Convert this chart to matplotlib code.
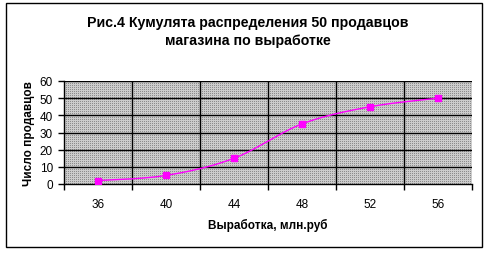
import matplotlib
matplotlib.use('Agg')
import matplotlib.pyplot as plt
import matplotlib.patches as mpatches
import numpy as np

plt.rcParams['font.family'] = ['Liberation Sans', 'DejaVu Sans']

# data
categories = ['36', '40', '44', '48', '52', '56']
cum_sellers = [2, 5, 15, 35, 45, 50]
y_ticks = [0, 10, 20, 30, 40, 50, 60]

title = 'Рис.4 Кумулята распределения 50 продавцов\nмагазина по выработке'
x_label = 'Выработка, млн.руб'
y_label = 'Число продавцов'


def smooth_curve(xs, ys, steps=30):
    # catmull-rom like excel "smoothed line"
    xs = np.asarray(xs, float)
    ys = np.asarray(ys, float)
    px = np.concatenate([[xs[0]], xs, [xs[-1]]])
    py = np.concatenate([[ys[0]], ys, [ys[-1]]])
    out_x, out_y = [], []
    t = np.linspace(0, 1, steps)
    for i in range(1, len(px) - 2):
        p0, p1, p2, p3 = [np.array([px[k], py[k]]) for k in (i - 1, i, i + 1, i + 2)]
        c1 = p1 + (p2 - p0) / 6.0
        c2 = p2 - (p3 - p1) / 6.0
        b = ((1 - t) ** 3)[:, None] * p1 + (3 * (1 - t) ** 2 * t)[:, None] * c1 \
            + (3 * (1 - t) * t ** 2)[:, None] * c2 + (t ** 3)[:, None] * p2
        out_x.extend(b[:, 0])
        out_y.extend(b[:, 1])
    return np.array(out_x), np.array(out_y)


fig = plt.figure(figsize=(4.9, 2.55), dpi=100)
fig.patch.set_facecolor('white')

# outer chart frame
fig.patches.append(mpatches.Rectangle((6 / 490, 1 - 248 / 255), 476 / 490, 244 / 255,
                                      transform=fig.transFigure, fill=False,
                                      edgecolor='black', linewidth=1.0))

ax = fig.add_axes([64 / 490, 1 - 185 / 255, 408 / 490, 103 / 255])

x = np.arange(len(categories))
n = len(categories)

# dotted gray pattern background like excel
h, w = 103, 408
pat = np.full((h, w, 3), 0.80)
pat[::2, ::2] = 0.55
ax.imshow(pat, extent=(-0.5, n - 0.5, 0, 60), aspect='auto',
          interpolation='nearest', zorder=0)

ax.set_xlim(-0.5, n - 0.5)
ax.set_ylim(0, 60)

# grid
for yv in y_ticks[1:]:
    ax.axhline(yv, color='black', linewidth=1.0, zorder=1)
for xv in np.arange(0.5, n - 0.5, 1):
    ax.axvline(xv, color='black', linewidth=1.0, zorder=1)

sx, sy = smooth_curve(x, cum_sellers)
ax.plot(sx, sy, color='#FF00FF', linewidth=1.0, zorder=3)
ax.plot(x, cum_sellers, linestyle='none', marker='s', markersize=4.5,
        color='#FF00FF', zorder=4)

ax.set_yticks(y_ticks)
ax.set_yticklabels([str(v) for v in y_ticks], fontsize=8.5)
ax.set_xticks(x)
ax.set_xticklabels(categories, fontsize=8.5)
ax.set_xticks(np.arange(-0.5, n, 1), minor=True)
ax.tick_params(axis='x', which='major', length=0, pad=10)
ax.tick_params(axis='x', which='minor', length=4, width=1, direction='out')
ax.tick_params(axis='y', length=4, width=1, direction='out', pad=4)

for s in ('top', 'right'):
    ax.spines[s].set_visible(False)
for s in ('left', 'bottom'):
    ax.spines[s].set_linewidth(1.0)

ax.set_xlabel(x_label, fontsize=8.5, fontweight='bold', labelpad=6)
ax.set_ylabel(y_label, fontsize=8.5, fontweight='bold', labelpad=3)

fig.text(0.505, 1 - 32 / 255, title, ha='center', va='center', fontsize=10.2,
         fontweight='bold', linespacing=1.35)

fig.savefig('out.png', dpi=100)
